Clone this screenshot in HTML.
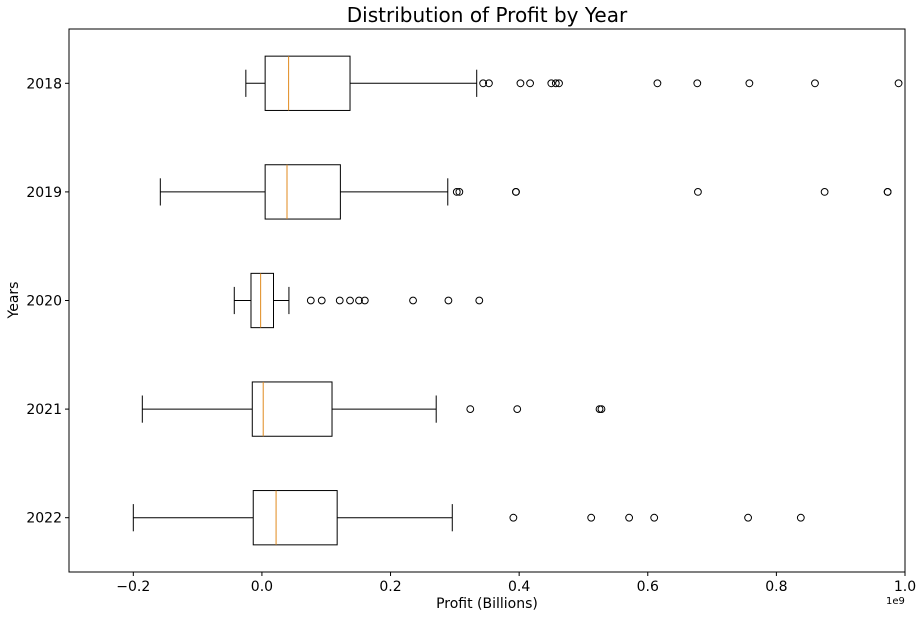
<!DOCTYPE html>
<html><head><meta charset="utf-8"><style>
html,body{margin:0;padding:0;background:#fff;}
svg{display:block;font-family:"DejaVu Sans","Liberation Sans",sans-serif;}
</style></head><body>
<svg id="chart" width="923" height="618" xmlns="http://www.w3.org/2000/svg">
<text x="487" y="22" font-size="20" text-anchor="middle">Distribution of Profit by Year</text>
<text x="487" y="608" font-size="14" text-anchor="middle">Profit (Billions)</text>
<text x="18" y="300" font-size="14" text-anchor="middle" transform="rotate(-90 18 300)">Years</text>
<text x="886" y="604" font-size="10">1e9</text>
<g id="marks"></g>
<g id="axes"></g>
<rect x="69" y="29" width="836" height="543" fill="none" stroke="#000" stroke-width="1"/>
</svg>
<script>
const categories = ["2018","2019","2020","2021","2022"];
const whiskerLow = [-0.025,-0.158,-0.043,-0.186,-0.200];
const q1 = [0.005,0.005,-0.017,-0.015,-0.0135];
const medians = [0.0415,0.039,-0.002,0.002,0.022];
const q3 = [0.137,0.122,0.018,0.109,0.117];
const whiskerHigh = [0.334,0.289,0.042,0.271,0.296];
const outliers = [
  [0.344,0.353,0.402,0.417,0.450,0.457,0.462,0.615,0.677,0.758,0.860,0.990],
  [0.303,0.307,0.395,0.395,0.678,0.875,0.973,0.973],
  [0.076,0.093,0.121,0.137,0.151,0.160,0.235,0.290,0.338],
  [0.324,0.397,0.525,0.528],
  [0.391,0.512,0.571,0.610,0.756,0.838]
];
const xTicks = [-0.2,0.0,0.2,0.4,0.6,0.8,1.0];
const xTickLabels = ["\u22120.2","0.0","0.2","0.4","0.6","0.8","1.0"];

const X0=69, X1=905, Y0=29, Y1=572, XMIN=-0.3, XMAX=1.0;
function xs(v){return X0+(v-XMIN)/(XMAX-XMIN)*(X1-X0);}
function ys(i){const pos=categories.length-i;return Y0+(5.5-pos)/5*(Y1-Y0);}
const NS="http://www.w3.org/2000/svg";
function mk(tag,attrs,parent){const e=document.createElementNS(NS,tag);for(const k in attrs)e.setAttribute(k,attrs[k]);parent.appendChild(e);return e;}
const marks=document.getElementById('marks'), axes=document.getElementById('axes');
const bh=54.3/2, ch=13.6;
categories.forEach((c,i)=>{
  const y=ys(i);
  const g=mk('g',{},marks);
  
  
  const wl=mk('line',{x1:xs(whiskerLow[i]),x2:xs(q1[i]),y1:y,y2:y,stroke:'#000','stroke-width':1},g);
  
  
  const wh=mk('line',{x1:xs(q3[i]),x2:xs(whiskerHigh[i]),y1:y,y2:y,stroke:'#000','stroke-width':1},g);
  
  
  const cl=mk('line',{x1:xs(whiskerLow[i]),x2:xs(whiskerLow[i]),y1:y-ch,y2:y+ch,stroke:'#000','stroke-width':1},g);
  
  
  const chh=mk('line',{x1:xs(whiskerHigh[i]),x2:xs(whiskerHigh[i]),y1:y-ch,y2:y+ch,stroke:'#000','stroke-width':1},g);
  
  
  const r=mk('rect',{x:xs(q1[i]),y:y-bh,width:xs(q3[i])-xs(q1[i]),height:2*bh,fill:'none',stroke:'#000','stroke-width':1},g);
  
  
  const m=mk('line',{x1:xs(medians[i]),x2:xs(medians[i]),y1:y-bh,y2:y+bh,stroke:'#e08a1e','stroke-width':1},g);
  
  
  outliers[i].forEach(v=>{
    const o=mk('circle',{cx:xs(v),cy:y,r:3.4,fill:'none',stroke:'#000','stroke-width':1},g);
    
    
  });
  const t=mk('line',{x1:X0-4,x2:X0,y1:y,y2:y,stroke:'#000'},axes);
  
  
  const tl=mk('text',{x:X0-7,y:y+5,'font-size':14,'text-anchor':'end'},axes);
  tl.textContent=c;
  
  
});
xTicks.forEach((v,k)=>{
  const x=xs(v);
  const t=mk('line',{x1:x,x2:x,y1:Y1,y2:Y1+4,stroke:'#000'},axes);
  
  
  const tl=mk('text',{x:x,y:Y1+19,'font-size':14,'text-anchor':'middle'},axes);
  tl.textContent=xTickLabels[k];
  
  
});
</script>
</body></html>
